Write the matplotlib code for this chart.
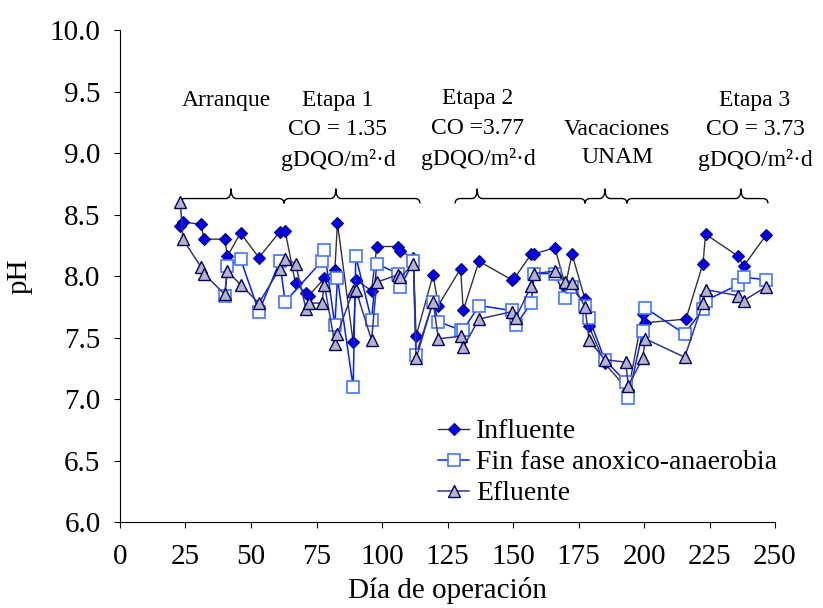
import matplotlib
matplotlib.use('Agg')
import matplotlib.pyplot as plt
from matplotlib.path import Path
from matplotlib.patches import PathPatch

plt.rcParams['font.family'] = ['Liberation Serif', 'DejaVu Serif']

# --- data ---
dias_inf = [23, 24, 31, 32, 40, 41, 46, 53, 61, 63, 67, 71, 72, 78, 82, 83, 89, 90, 96, 98,
            106, 107, 112, 113, 119.5, 121.5, 130, 131, 137, 149.5, 150.5, 157, 158, 166, 170,
            172.5, 177.5, 179, 185, 194, 199.5, 200.5, 216, 222.5, 223.5, 236, 238, 246.5]
ph_inf = [8.41, 8.44, 8.42, 8.30, 8.30, 8.16, 8.35, 8.15, 8.36, 8.37, 7.94, 7.86, 7.84, 7.98, 8.05, 8.43, 7.46, 7.97, 7.88, 8.24,
          8.24, 8.20, 8.15, 7.51, 8.01, 7.76, 8.06, 7.72, 8.12, 7.97, 7.98, 8.18, 8.18, 8.23, 7.92,
          8.18, 7.81, 7.59, 7.29, 7.07, 7.69, 7.62, 7.65, 8.10, 8.34, 8.16, 8.08, 8.33]

dias_fin = [40, 41, 46, 53, 61, 63, 77, 78, 82, 83, 89, 90, 96, 98, 106, 107, 112, 113, 119.5, 121.5,
            130, 131, 137, 149.5, 151, 157, 158, 166, 170, 172.5, 177.5, 179, 185, 193, 194, 199.5,
            200.5, 215.5, 222.5, 223.5, 236, 238, 246.5]
ph_fin = [7.84, 8.08, 8.14, 7.71, 8.12, 7.79, 8.12, 8.21, 7.60, 7.98, 7.10, 8.16, 7.64, 8.10, 8.02, 7.91, 8.12, 7.36, 7.79, 7.63,
          7.56, 7.56, 7.76, 7.72, 7.60, 7.78, 8.02, 8.02, 7.82, 7.91, 7.76, 7.66, 7.32, 7.14, 7.01, 7.55,
          7.74, 7.53, 7.73, 7.80, 7.93, 7.99, 7.97]

dias_efl = [23, 24, 31, 32, 40, 41, 46, 53, 61, 63, 67, 71, 72, 77, 78, 82, 83, 89, 90, 96, 98,
            106, 107, 112, 113, 119.5, 121.5, 130, 131, 137, 149.5, 151, 157, 158, 166, 170, 172.5,
            177.5, 179, 185, 193, 194, 199.5, 200.5, 215.5, 222.5, 223.5, 236, 238, 246.5]
ph_efl = [8.60, 8.30, 8.07, 8.02, 7.85, 8.04, 7.93, 7.78, 8.06, 8.14, 8.10, 7.73, 7.78, 7.78, 7.93, 7.45, 7.53, 7.88, 7.89, 7.48, 7.95,
          8.01, 7.99, 8.10, 7.33, 7.79, 7.49, 7.51, 7.42, 7.65, 7.71, 7.66, 7.92, 8.02, 8.04, 7.95, 7.94,
          7.75, 7.48, 7.32, 7.30, 7.11, 7.33, 7.49, 7.34, 7.78, 7.89, 7.84, 7.80, 7.91]

# stage braces: start day, end day, tip day
etapas = [(22.9, 62.6, 42.4), (62.6, 114.5, 82.4), (127.9, 177.5, 136.3),
          (177.5, 193.5, 185.1), (193.5, 247.3, 237.0)]

fig = plt.figure(figsize=(8.23, 6.08), dpi=100)
ax = fig.add_axes([0.1458, 0.1414, 0.7959, 0.8092])

ax.plot(dias_inf, ph_inf, color='#333333', lw=1.0, marker='D', ms=6,
        mfc='#0000ee', mec='#000080', mew=0.8, label='Influente')
ax.plot(dias_fin, ph_fin, color='#0022ff', lw=1.1, marker='s', ms=8.5,
        mfc='white', mec='#4477ff', mew=1.2, label='Fin fase anoxico-anaerobia')
ax.plot(dias_efl, ph_efl, color='#333399', lw=1.1, marker='^', ms=9,
        mfc='#b4b4c4', mec='#000066', mew=1.0, label='Efluente')

# curly braces over each stage
y_end, y_flat, y_tip, r = 8.59, 8.63, 8.71, 2.0
for x0, x1, xt in etapas:
    verts = [(x0, y_end), (x0, y_flat), (x0 + r, y_flat),
             (xt - r, y_flat), (xt, y_flat), (xt, y_tip),
             (xt, y_flat), (xt + r, y_flat),
             (x1 - r, y_flat), (x1, y_flat), (x1, y_end)]
    codes = [Path.MOVETO, Path.CURVE3, Path.CURVE3,
             Path.LINETO, Path.CURVE3, Path.CURVE3,
             Path.CURVE3, Path.CURVE3,
             Path.LINETO, Path.CURVE3, Path.CURVE3]
    ax.add_patch(PathPatch(Path(verts, codes), fill=False, lw=1.0, color='black', clip_on=False))

fs = 17
ax.text(40.5, 9.43, 'Arranque', ha='center', va='center', fontsize=fs)
ax.text(83.2, 9.43, 'Etapa 1', ha='center', va='center', fontsize=fs)
ax.text(83.2, 9.19, 'CO = 1.35', ha='center', va='center', fontsize=fs)
ax.text(83.2, 8.94, 'gDQO/m²·d', ha='center', va='center', fontsize=fs)
ax.text(136.6, 9.44, 'Etapa 2', ha='center', va='center', fontsize=fs)
ax.text(136.6, 9.20, 'CO =3.77', ha='center', va='center', fontsize=fs)
ax.text(136.6, 8.95, 'gDQO/m²·d', ha='center', va='center', fontsize=fs)
ax.text(189.7, 9.19, 'Vacaciones', ha='center', va='center', fontsize=fs)
ax.text(189.7, 8.96, 'UNAM', ha='center', va='center', fontsize=fs)
ax.text(242.4, 9.43, 'Etapa 3', ha='center', va='center', fontsize=fs)
ax.text(242.4, 9.19, 'CO = 3.73', ha='center', va='center', fontsize=fs)
ax.text(242.4, 8.94, 'gDQO/m²·d', ha='center', va='center', fontsize=fs)

ax.set_xlim(0, 250)
ax.set_ylim(6.0, 10.0)
ax.set_xticks(range(0, 251, 25))
ax.set_yticks([6.0, 6.5, 7.0, 7.5, 8.0, 8.5, 9.0, 9.5, 10.0])
ax.set_yticklabels([f'{v:.1f}' for v in ax.get_yticks()])
ax.tick_params(labelsize=21, direction='out', length=4)
ax.tick_params(axis='x', pad=12)
ax.tick_params(axis='y', pad=10)
ax.set_xlabel('Día de operación', fontsize=21, labelpad=5)
ax.set_ylabel('pH', fontsize=21, labelpad=12)
ax.spines['top'].set_visible(False)
ax.spines['right'].set_visible(False)

ax.legend(loc='upper left', bbox_to_anchor=(0.465, 0.238), frameon=False, fontsize=20,
          handlelength=1.1, handletextpad=0.25, labelspacing=0.2, borderpad=0)

plt.savefig('out.png', dpi=100)
plt.close()
